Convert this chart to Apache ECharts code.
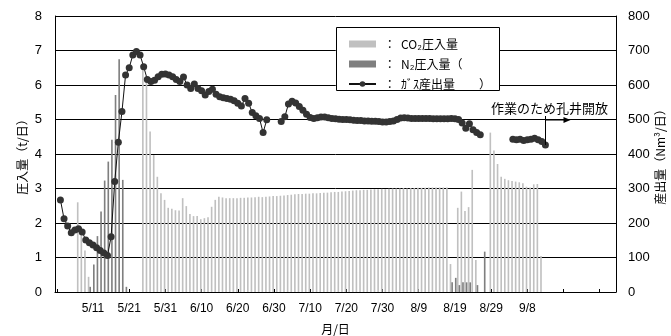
<!DOCTYPE html>
<html><head><meta charset="utf-8">
<script src="https://cdn.jsdelivr.net/npm/echarts@6/dist/echarts.min.js"></script>
<style>html,body{margin:0;padding:0;background:#fff}#c{width:671px;height:336px}</style>
</head><body><div id="c"></div>
<script>
// Categories: daily from 5/1 to 10/2
const monthDays = [[5, 31], [6, 30], [7, 31], [8, 31], [9, 30], [10, 2]];
const dates = [];
monthDays.forEach(([m, n]) => { for (let d = 1; d <= n; d++) dates.push(m + '/' + d); });

const leftTicks = [0, 1, 2, 3, 4, 5, 6, 7, 8];
const rightTicks = [0, 100, 200, 300, 400, 500, 600, 700, 800];

// CO2 injection (t/day)
const co2 = [
  null, null, null, null, null, null, 2.60, 1.70, 1.20, 0.44,
  null, null, null, null, null, null, null, null, null, null,
  null, null, null, null, 6.45, 6.15, 4.65, 3.97, 3.34, 2.86,
  2.67, 2.44, 2.41, 2.37, 2.36, 2.72, 2.49, 2.26, 2.20, 2.20,
  2.11, 2.14, 2.17, 2.47, 2.67, 2.76, 2.74, 2.72, 2.72, 2.72,
  2.72, 2.73, 2.73, 2.74, 2.74, 2.75, 2.76, 2.75, 2.76, 2.77,
  2.78, 2.78, 2.79, 2.80, 2.81, 2.82, 2.83, 2.84, 2.84, 2.85,
  2.85, 2.86, 2.86, 2.87, 2.88, 2.88, 2.89, 2.90, 2.90, 2.91,
  2.92, 2.93, 2.94, 2.95, 2.95, 2.96, 2.96, 2.97, 2.98, 2.98,
  2.99, 2.98, 2.99, 3.00, 3.00, 3.00, 3.01, 3.00, 3.01, 3.01,
  3.02, 3.02, 3.02, 3.03, 3.03, 3.03, 3.03, 3.03, 3.03, 0.81,
  null, 2.44, 2.91, 2.35, 2.46, 3.54, 0.93, null, null, null,
  4.62, 4.10, 3.71, 3.34, 3.28, 3.24, 3.22, 3.20, 3.18, 3.15,
  3.05, 3.03, 3.12, 3.13, 1.04, null, null, null, null, null,
  null, null, null, null, null, null, null, null, null, null,
  null, null, null, null, null
];

// N2 injection (t/day)
const n2 = [
  null, null, null, null, null, null, null, null, null, 0.15,
  0.80, 1.62, 2.33, 3.23, 3.78, 4.41, 5.71, 6.75, 3.25, 0.15,
  null, null, null, null, null, null, null, null, null, null,
  null, null, null, null, null, null, null, null, null, null,
  null, null, null, null, null, null, null, null, null, null,
  null, null, null, null, null, null, null, null, null, null,
  null, null, null, null, null, null, null, null, null, null,
  null, null, null, null, null, null, null, null, null, null,
  null, null, null, null, null, null, null, null, null, null,
  null, null, null, null, null, null, null, null, null, null,
  null, null, null, null, null, null, null, null, null, 0.28,
  0.41, 0.20, 0.28, 0.28, 0.28, null, 0.20, null, 1.17, null,
  null, null, null, null, null, null, null, null, null, null,
  null, null, null, null, null, null, null, null, null, null,
  null, null, null, null, null, null, null, null, null, null,
  null, null, null, null, null
];

// Gas production (Nm3/day)
const gas = [
  null, 267, 212, 191, 172, 180, 183, 174, 151, 143,
  136, 128, 120, 113, 106, 160, 320, 434, 523, 629,
  650, 687, 697, 687, 653, 616, 610, 614, 624, 631,
  632, 629, 624, 616, 610, 623, 600, 590, 603, 590,
  583, 571, 581, 588, 573, 566, 563, 561, 559, 554,
  547, 539, 561, 547, 520, 511, 503, 462, 499, null,
  null, null, 494, 508, 545, 553, 548, 538, 527, 515,
  506, 503, 505, 507, 507, 505, 503, 502, 501, 500,
  500, 499, 498, 497, 497, 496, 496, 495, 495, 494,
  493, 493, 494, 496, 500, 504, 505, 504, 503, 503,
  503, 503, 503, 503, 502, 502, 502, 502, 502, 503,
  502, 500, 490, 475, 488, 470, 462, 456, null, null,
  null, null, null, null, null, null, 443, 441, 443, 439,
  441, 443, 446, 441, 436, 426, null, null, null, null,
  null, null, null, null, null, null, null, null, null, null,
  null, null, null, null, null
];

const seriesNames = ['CO₂圧入量', 'N₂圧入量（', 'ｶﾞｽ産出量　　）'];
const annotationText = '作業のため孔井開放';
const annotationIndex = 135;

const chart = echarts.init(document.getElementById('c'), null, {renderer: 'canvas'});
const numFont = 'Liberation Sans, Arial, sans-serif';
const cjkFont = 'Noto Sans CJK JP, sans-serif';

const option = {
  animation: false,
  backgroundColor: '#fff',
  grid: {left: 55, right: 55, top: 16, bottom: 44, containLabel: false, outerBoundsMode: 'none'},
  legend: {
    orient: 'vertical', left: 343, top: 33, z: 20,
    itemWidth: 27, itemHeight: 7, itemGap: 8,
    textStyle: {fontFamily: cjkFont, fontSize: 12, color: '#000'},
    formatter: n => ' ：  ' + n,
    data: [
      {name: seriesNames[0], icon: 'rect'},
      {name: seriesNames[1], icon: 'rect'},
      {name: seriesNames[2]}
    ]
  },
  xAxis: {
    type: 'category', data: dates, boundaryGap: true,
    name: '月/日', nameLocation: 'middle', nameGap: 31, nameMoveOverlap: false,
    nameTextStyle: {fontFamily: cjkFont, fontSize: 12, color: '#000'},
    axisLine: {lineStyle: {color: '#000', width: 1}},
    axisTick: {show: true, inside: true, length: 3, alignWithLabel: true,
      interval: (i) => i % 10 === 0, lineStyle: {color: '#000'}},
    axisLabel: {interval: (i) => i % 10 === 0 && i >= 10 && i <= 130, margin: 11,
      fontFamily: numFont, fontSize: 12, color: '#000'},
    splitLine: {show: false}
  },
  yAxis: [
    {
      type: 'value', min: 0, max: 8, interval: 1, position: 'left',
      name: '圧入量（t/日）', nameLocation: 'middle', nameGap: 27, nameRotate: 90, nameMoveOverlap: false,
      nameTextStyle: {fontFamily: cjkFont, fontSize: 12, color: '#000'},
      axisLine: {show: true, lineStyle: {color: '#000'}},
      axisTick: {show: false},
      axisLabel: {margin: 13, fontFamily: numFont, fontSize: 13, color: '#000',
        formatter: v => leftTicks.includes(v) ? String(v) : ''},
      splitLine: {show: true, lineStyle: {color: '#000', width: 1}}
    },
    {
      type: 'value', min: 0, max: 800, interval: 100, position: 'right',
      name: '産出量（Nm³/日）', nameLocation: 'middle', nameGap: 38, nameRotate: 90, nameMoveOverlap: false,
      nameTextStyle: {fontFamily: cjkFont, fontSize: 12, color: '#000'},
      axisLine: {show: true, lineStyle: {color: '#000'}},
      axisTick: {show: false},
      axisLabel: {margin: 12, fontFamily: numFont, fontSize: 13, color: '#000',
        formatter: v => rightTicks.includes(v) ? String(v) : ''},
      splitLine: {show: false}
    }
  ],
  series: [
    {name: seriesNames[0], type: 'bar', data: co2, yAxisIndex: 0,
      itemStyle: {color: '#c0c0c0'}, barGap: '0%', barCategoryGap: '10%'},
    {name: seriesNames[1], type: 'bar', data: n2, yAxisIndex: 0,
      itemStyle: {color: '#7f7f7f'}, barGap: '0%', barCategoryGap: '10%'},
    {name: seriesNames[2], type: 'line', data: gas, yAxisIndex: 1,
      symbol: 'circle', symbolSize: 7, showSymbol: true, showAllSymbol: true, connectNulls: false,
      itemStyle: {color: '#333'}, lineStyle: {color: '#111', width: 1}}
  ]
};
chart.setOption(option);

// Annotation anchored at the last gas point via the chart's own scales
const p = chart.convertToPixel({xAxisIndex: 0, yAxisIndex: 1}, [annotationIndex, gas[annotationIndex]]);
const ax = Math.round(p[0]) + 0.5;
const ay = p[1];
const topY = ay - 29;
const arrowY = ay - 25;
chart.setOption({
  graphic: [
    {type: 'rect', z: 10, shape: {x: 336.5, y: 27.5, width: 163, height: 63},
      style: {fill: '#fff', stroke: '#000', lineWidth: 1}},
    {type: 'line', z: 10, shape: {x1: ax, y1: ay, x2: ax, y2: topY},
      style: {stroke: '#000', lineWidth: 1}},
    {type: 'line', z: 10, shape: {x1: ax, y1: arrowY, x2: ax + 19, y2: arrowY},
      style: {stroke: '#000', lineWidth: 1}},
    {type: 'polygon', z: 10, shape: {points: [[ax + 25, arrowY], [ax + 18, arrowY - 3], [ax + 18, arrowY + 3]]},
      style: {fill: '#000'}},
    {type: 'text', z: 10, x: ax + 4, y: ay - 37,
      style: {text: annotationText, fontFamily: cjkFont, fontSize: 13, fill: '#000',
        align: 'center', verticalAlign: 'middle'}}
  ]
});
</script>
</body></html>
